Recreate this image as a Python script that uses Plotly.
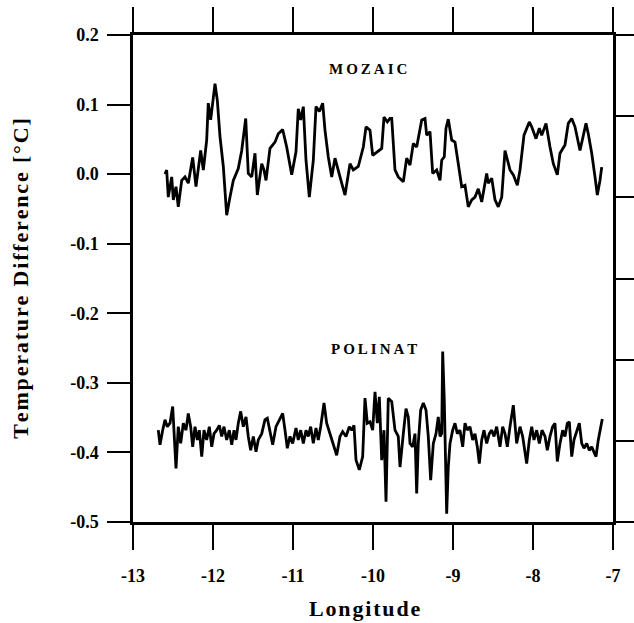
import plotly.graph_objects as go

# MOZAIC temperature difference along the flight track
mozaic_lon = [
    -12.600, -12.579, -12.559, -12.516, -12.496, -12.4625, -12.434, -12.391, -12.350, -12.309,
    -12.254, -12.2125, -12.154, -12.121, -12.079, -12.059, -12.029, -11.975, -11.946, -11.9125,
    -11.871, -11.829, -11.7875, -11.746, -11.684, -11.641, -11.591, -11.559, -11.516, -11.475,
    -11.446, -11.391, -11.3625, -11.3375, -11.2875, -11.225, -11.184, -11.129, -11.079, -11.016,
    -10.9625, -10.934, -10.904, -10.871, -10.8375, -10.796, -10.746, -10.7125, -10.671, -10.629,
    -10.600, -10.559, -10.516, -10.475, -10.4125, -10.350, -10.2875, -10.246, -10.184, -10.121,
    -10.0875, -10.0375, -10.004, -9.954, -9.891, -9.8625, -9.821, -9.7875, -9.766, -9.725,
    -9.684, -9.621, -9.579, -9.5375, -9.496, -9.454, -9.391, -9.350, -9.329, -9.2875,
    -9.254, -9.204, -9.1625, -9.141, -9.109, -9.0875, -9.059, -9.016, -8.975, -8.934,
    -8.891, -8.850, -8.809, -8.766, -8.725, -8.684, -8.641, -8.579, -8.559, -8.516,
    -8.475, -8.434, -8.391, -8.350, -8.321, -8.2875, -8.246, -8.196, -8.1625, -8.1125,
    -8.046, -8.016, -7.9625, -7.921, -7.891, -7.8375, -7.7875, -7.746, -7.696, -7.6625,
    -7.600, -7.559, -7.516, -7.475, -7.4125, -7.379, -7.3375, -7.309, -7.266, -7.225,
    -7.196, -7.1625, -7.141,
]
mozaic_dt = [
    0.000, 0.006, -0.033, -0.004, -0.037, -0.018, -0.047, -0.009, -0.004, -0.013,
    0.024, -0.018, 0.034, 0.006, 0.049, 0.102, 0.078, 0.130, 0.106, 0.054,
    0.011, -0.059, -0.033, -0.009, 0.008, 0.034, 0.080, 0.001, -0.004, 0.030,
    -0.030, 0.015, 0.006, -0.009, 0.037, 0.046, 0.058, 0.064, 0.039, -0.001,
    0.032, 0.094, 0.078, 0.097, 0.020, -0.033, 0.020, 0.097, 0.090, 0.102,
    0.063, 0.025, -0.004, 0.023, -0.004, -0.030, 0.015, 0.006, 0.011, 0.039,
    0.068, 0.063, 0.027, 0.032, 0.037, 0.082, 0.075, 0.080, 0.080, 0.006,
    -0.004, -0.011, 0.023, 0.013, 0.044, 0.039, 0.078, 0.080, 0.056, 0.061,
    0.001, 0.006, -0.009, 0.020, 0.025, 0.066, 0.079, 0.049, 0.046, 0.015,
    -0.018, -0.016, -0.047, -0.037, -0.033, -0.021, -0.040, 0.001, -0.013, -0.006,
    -0.037, -0.047, -0.033, 0.034, 0.020, 0.006, -0.001, -0.016, 0.006, 0.056,
    0.075, 0.068, 0.051, 0.066, 0.056, 0.073, 0.039, 0.015, -0.001, 0.030,
    0.042, 0.073, 0.080, 0.068, 0.034, 0.051, 0.073, 0.058, 0.030, -0.004,
    -0.030, -0.009, 0.010,
]

# POLINAT temperature difference along the flight track
polinat_lon = [
    -12.684, -12.6625, -12.629, -12.600, -12.571, -12.5375, -12.504, -12.484, -12.4625, -12.434,
    -12.404, -12.371, -12.3375, -12.309, -12.279, -12.254, -12.225, -12.196, -12.171, -12.141,
    -12.1125, -12.079, -12.046, -12.016, -11.9875, -11.954, -11.921, -11.891, -11.8625, -11.829,
    -11.796, -11.766, -11.7375, -11.7125, -11.684, -11.654, -11.621, -11.5875, -11.559, -11.529,
    -11.496, -11.4625, -11.434, -11.391, -11.350, -11.321, -11.2875, -11.254, -11.2125, -11.171,
    -11.129, -11.100, -11.071, -11.0375, -11.004, -10.9625, -10.934, -10.904, -10.871, -10.8375,
    -10.809, -10.779, -10.746, -10.7125, -10.684, -10.654, -10.6125, -10.579, -10.5375, -10.496,
    -10.454, -10.4125, -10.379, -10.3375, -10.296, -10.266, -10.2375, -10.2125, -10.171, -10.129,
    -10.100, -10.071, -10.0375, -10.004, -9.975, -9.946, -9.921, -9.891, -9.8625, -9.8375,
    -9.809, -9.766, -9.725, -9.684, -9.6625, -9.621, -9.5875, -9.559, -9.5375, -9.504,
    -9.475, -9.454, -9.434, -9.404, -9.371, -9.3375, -9.309, -9.279, -9.246, -9.2125,
    -9.184, -9.1625, -9.141, -9.129, -9.109, -9.079, -9.059, -9.0375, -9.004, -8.975,
    -8.946, -8.9125, -8.879, -8.850, -8.821, -8.7875, -8.754, -8.725, -8.696, -8.671,
    -8.641, -8.6125, -8.579, -8.546, -8.516, -8.4875, -8.454, -8.4125, -8.379, -8.350,
    -8.321, -8.2875, -8.246, -8.204, -8.1625, -8.129, -8.079, -8.046, -8.016, -7.9875,
    -7.954, -7.921, -7.8875, -7.850, -7.821, -7.7875, -7.754, -7.725, -7.696, -7.6625,
    -7.629, -7.600, -7.571, -7.546, -7.516, -7.4875, -7.454, -7.421, -7.391, -7.3625,
    -7.329, -7.296, -7.266, -7.2375, -7.2125, -7.184, -7.154, -7.134,
]
polinat_dt = [
    -0.368, -0.389, -0.368, -0.353, -0.363, -0.358, -0.334, -0.382, -0.423, -0.363,
    -0.387, -0.358, -0.368, -0.344, -0.363, -0.392, -0.363, -0.382, -0.368, -0.406,
    -0.368, -0.382, -0.363, -0.392, -0.373, -0.368, -0.361, -0.377, -0.363, -0.382,
    -0.368, -0.389, -0.368, -0.382, -0.358, -0.341, -0.363, -0.349, -0.377, -0.397,
    -0.377, -0.399, -0.382, -0.373, -0.353, -0.351, -0.368, -0.389, -0.363, -0.353,
    -0.344, -0.368, -0.394, -0.377, -0.387, -0.365, -0.382, -0.368, -0.387, -0.368,
    -0.377, -0.363, -0.387, -0.365, -0.382, -0.363, -0.329, -0.358, -0.373, -0.389,
    -0.404, -0.377, -0.370, -0.377, -0.363, -0.368, -0.361, -0.411, -0.425, -0.406,
    -0.322, -0.358, -0.356, -0.368, -0.313, -0.358, -0.320, -0.411, -0.368, -0.471,
    -0.322, -0.327, -0.368, -0.377, -0.421, -0.373, -0.337, -0.349, -0.387, -0.392,
    -0.373, -0.459, -0.387, -0.339, -0.329, -0.339, -0.377, -0.440, -0.387, -0.373,
    -0.349, -0.377, -0.373, -0.255, -0.325, -0.488, -0.421, -0.387, -0.368, -0.358,
    -0.373, -0.368, -0.392, -0.358, -0.368, -0.363, -0.382, -0.373, -0.392, -0.416,
    -0.382, -0.368, -0.387, -0.373, -0.368, -0.377, -0.363, -0.392, -0.363, -0.373,
    -0.392, -0.363, -0.332, -0.387, -0.363, -0.377, -0.416, -0.382, -0.363, -0.382,
    -0.368, -0.387, -0.368, -0.377, -0.397, -0.377, -0.363, -0.358, -0.413, -0.387,
    -0.368, -0.377, -0.358, -0.356, -0.406, -0.382, -0.368, -0.358, -0.387, -0.394,
    -0.387, -0.397, -0.392, -0.401, -0.406, -0.382, -0.363, -0.352,
]

# Axis ticks
lon_ticks = [-13, -12, -11, -10, -9, -8, -7]
lon_labels = ["-13", "-12", "-11", "-10", "-9", "-8", "-7"]
dt_ticks = [0.2, 0.1, 0.0, -0.1, -0.2, -0.3, -0.4, -0.5]
dt_labels = ["0.2", "0.1", "0.0", "-0.1", "-0.2", "-0.3", "-0.4", "-0.5"]
# secondary (unlabelled) scale on the right-hand side
right_ticks = [0, 1, 2, 3, 4, 5, 6]

FONT = "Liberation Serif"
THIN = "\u2009"
HAIR = "\u200a"


def bold(text):
    return "<b>" + text + "</b>"


def spaced(text, gap):
    """Letter-spaced bold string for the headings."""
    return bold(gap.join(text))


fig = go.Figure()
fig.add_trace(go.Scatter(x=mozaic_lon, y=mozaic_dt, mode="lines",
                         line=dict(color="black", width=2.8), showlegend=False))
fig.add_trace(go.Scatter(x=polinat_lon, y=polinat_dt, mode="lines",
                         line=dict(color="black", width=2.8), showlegend=False))
# invisible trace to carry the right-hand axis
fig.add_trace(go.Scatter(x=[None], y=[None], yaxis="y2", showlegend=False, hoverinfo="skip"))

tickfont = dict(family=FONT, size=18, color="black")

fig.update_layout(
    width=634, height=623,
    margin=dict(l=133, r=21, t=35, b=101),
    paper_bgcolor="white", plot_bgcolor="white",
    showlegend=False,
    xaxis=dict(
        range=[-13, -7], tickvals=lon_ticks, ticktext=[bold(t) for t in lon_labels],
        showline=True, linecolor="black", linewidth=2.5, mirror="allticks",
        ticks="outside", ticklen=25, tickwidth=2, tickcolor="black",
        ticklabelstandoff=11, tickfont=tickfont,
        showgrid=False, zeroline=False, automargin=False,
    ),
    yaxis=dict(
        range=[-0.5, 0.2], tickvals=dt_ticks, ticktext=[bold(t) for t in dt_labels],
        showline=True, linecolor="black", linewidth=2.5, mirror=True,
        ticks="outside", ticklen=23, tickwidth=2, tickcolor="black",
        ticklabelstandoff=5, tickfont=tickfont,
        showgrid=False, zeroline=False, automargin=False,
    ),
    yaxis2=dict(
        overlaying="y", side="right", range=[0, 6], tickvals=right_ticks,
        showticklabels=False, ticks="outside", ticklen=25, tickwidth=2,
        tickcolor="black", showline=False, showgrid=False, zeroline=False,
        automargin=False,
    ),
    annotations=[
        dict(text=spaced("MOZAIC", THIN), xref="paper", yref="paper", x=0.49, y=0.93,
             xanchor="center", yanchor="middle", showarrow=False,
             font=dict(family=FONT, size=15, color="black")),
        dict(text=spaced("POLINAT", THIN), xref="paper", yref="paper", x=0.502, y=0.355,
             xanchor="center", yanchor="middle", showarrow=False,
             font=dict(family=FONT, size=15, color="black")),
        dict(text=spaced("Longitude", HAIR), xref="paper", yref="paper", x=0.483, y=-0.177,
             xanchor="center", yanchor="middle", showarrow=False,
             font=dict(family=FONT, size=22, color="black")),
        dict(text=spaced("Temperature Difference [°C]", HAIR), xref="paper", yref="paper",
             x=-0.235, y=0.5, textangle=-90, xanchor="center", yanchor="middle",
             showarrow=False,
             font=dict(family=FONT, size=22, color="black")),
    ],
)

fig.write_html("out.html")
